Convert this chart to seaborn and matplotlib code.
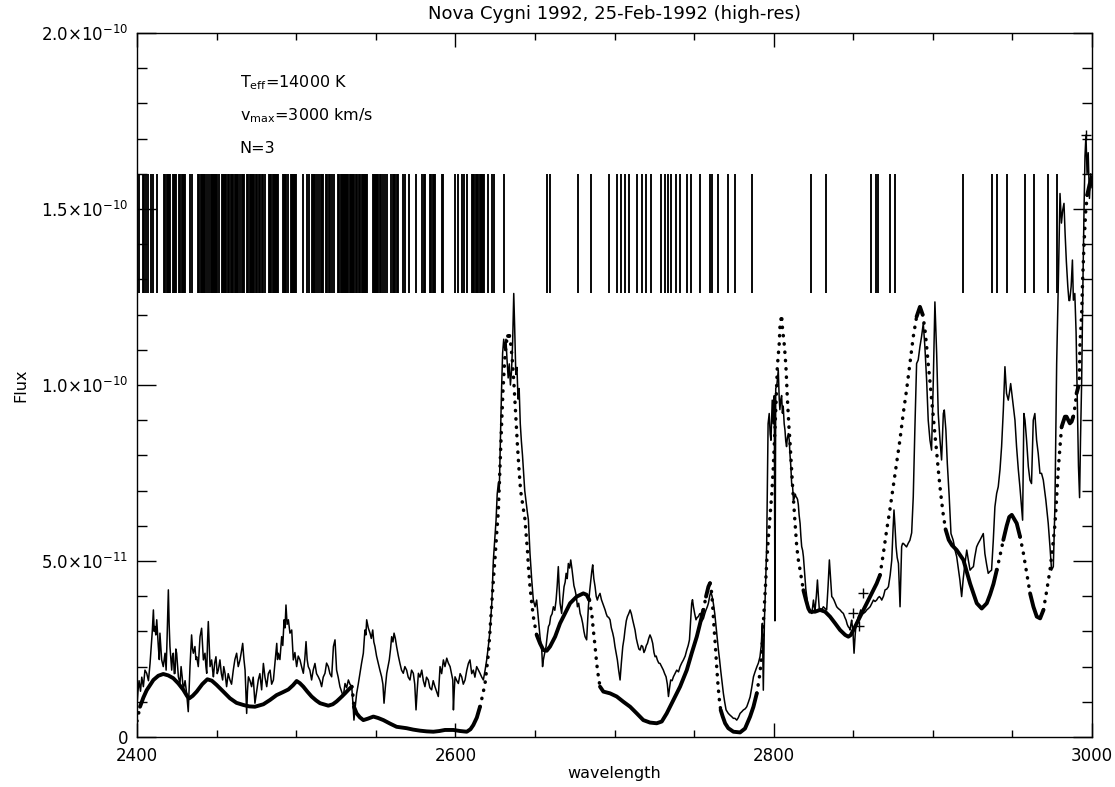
import numpy as np
import pandas as pd
import matplotlib
matplotlib.use("Agg")
import matplotlib.pyplot as plt
import seaborn as sns
from matplotlib.ticker import FixedLocator, MultipleLocator

sns.set_style("ticks")
plt.rcParams['font.family'] = ['DejaVu Sans']
plt.rcParams['mathtext.fontset'] = 'dejavusans'

# ---------------- texts ----------------
title = "Nova Cygni 1992, 25-Feb-1992 (high-res)"
x_label = "wavelength"
y_label = "Flux"
x_ticks = [2400, 2600, 2800, 3000]
x_tick_labels = ["2400", "2600", "2800", "3000"]
y_ticks = [0, 5e-11, 1e-10, 1.5e-10, 2e-10]
y_tick_labels = ["0", "5.0×10$^{-11}$", "1.0×10$^{-10}$",
                 "1.5×10$^{-10}$", "2.0×10$^{-10}$"]
annotations = [r"$\mathregular{T_{eff}}$=14000 K",
               r"$\mathregular{v_{max}}$=3000 km/s",
               "N=3"]
flux_unit = 1e-11   # flux values below are in units of 1e-11

# ---------------- observed spectrum (wavelength, flux/1e-11) ----------------
obs_points = [
    (2400.0, 0.9), (2400.6, 1.3), (2401.3, 1.6), (2402.2, 1.3), (2403.0, 1.7), (2404.0, 1.43),
    (2405.0, 1.9), (2406.1, 1.81), (2407.2, 1.6), (2408.2, 2.09), (2409.0, 2.6), (2409.6, 3.0),
    (2410.3, 3.61), (2410.8, 3.0), (2411.3, 3.14), (2411.8, 2.9), (2412.4, 3.33), (2413.4, 2.57),
    (2414.0, 2.2), (2414.4, 2.95), (2415.5, 2.19), (2416.5, 2.0), (2417.6, 2.38), (2418.3, 1.9),
    (2418.9, 2.8), (2419.7, 4.18), (2420.2, 3.2), (2420.7, 2.57), (2421.8, 1.9), (2422.3, 2.3),
    (2422.8, 2.38), (2423.4, 1.8), (2423.9, 1.81), (2424.4, 2.5), (2424.9, 2.38), (2426.0, 1.71),
    (2427.0, 1.52), (2427.7, 2.0), (2428.4, 1.7), (2429.1, 1.34), (2430.2, 1.6), (2431.2, 1.24),
    (2432.2, 0.72), (2432.8, 1.4), (2433.3, 2.0), (2434.3, 2.9), (2434.9, 2.5), (2435.4, 2.38),
    (2436.4, 2.57), (2437.0, 2.2), (2437.5, 2.28), (2438.5, 2.0), (2439.6, 2.85), (2440.6, 3.09),
    (2441.2, 2.6), (2441.7, 2.19), (2442.7, 2.38), (2443.3, 2.0), (2443.8, 1.81), (2444.3, 2.7),
    (2444.8, 3.28), (2445.4, 2.6), (2445.9, 2.0), (2446.9, 2.19), (2447.5, 1.9), (2448.0, 1.71),
    (2448.8, 2.1), (2449.6, 2.28), (2450.4, 1.8), (2451.1, 1.9), (2452.1, 2.19), (2453.0, 1.8),
    (2453.8, 1.62), (2454.5, 2.0), (2455.3, 1.81), (2456.3, 1.43), (2457.3, 1.8), (2458.4, 1.62),
    (2459.4, 1.5), (2460.5, 1.9), (2461.5, 2.2), (2462.6, 2.38), (2463.6, 2.0), (2464.7, 2.19),
    (2465.5, 2.4), (2466.4, 2.66), (2467.2, 2.2), (2467.9, 1.9), (2468.9, 0.67), (2469.4, 1.3),
    (2470.0, 1.71), (2471.0, 1.6), (2472.0, 1.43), (2473.0, 1.7), (2474.1, 0.96), (2475.2, 1.3),
    (2476.2, 1.62), (2477.2, 1.8), (2478.3, 1.34), (2479.4, 2.09), (2480.4, 1.7), (2481.5, 1.43),
    (2482.5, 1.8), (2483.6, 1.9), (2484.6, 1.5), (2485.7, 1.62), (2486.7, 2.1), (2487.8, 2.66),
    (2488.3, 2.2), (2488.8, 2.38), (2489.8, 2.2), (2490.9, 2.85), (2491.6, 2.6), (2492.4, 3.33),
    (2493.0, 3.1), (2493.6, 3.75), (2494.3, 3.2), (2495.1, 3.33), (2496.1, 2.95), (2497.2, 3.04),
    (2498.2, 2.19), (2499.2, 2.4), (2500.3, 2.0), (2501.3, 2.3), (2502.4, 2.19), (2503.4, 2.0),
    (2504.5, 1.81), (2505.4, 2.2), (2506.2, 2.71), (2506.9, 2.2), (2507.6, 2.0), (2508.6, 1.9),
    (2509.7, 1.62), (2510.7, 1.9), (2511.8, 2.09), (2512.8, 1.8), (2513.9, 1.71), (2515.0, 1.6),
    (2516.0, 1.43), (2517.0, 1.7), (2518.1, 1.81), (2519.1, 2.1), (2520.2, 2.0), (2521.2, 1.8),
    (2522.3, 1.71), (2523.4, 2.57), (2524.4, 2.76), (2525.4, 1.9), (2526.4, 1.7), (2527.5, 1.43),
    (2528.5, 1.3), (2529.6, 1.15), (2530.7, 1.52), (2531.7, 1.4), (2532.8, 1.62), (2533.8, 1.5),
    (2534.9, 1.43), (2535.6, 1.0), (2536.3, 0.48), (2537.2, 0.9), (2538.0, 1.24), (2539.0, 1.5),
    (2540.1, 1.81), (2541.1, 2.1), (2542.2, 2.38), (2543.2, 3.04), (2543.8, 2.9), (2544.3, 3.33),
    (2545.3, 3.1), (2546.4, 2.95), (2547.2, 2.8), (2548.1, 3.04), (2548.8, 2.7), (2549.5, 2.57),
    (2550.5, 2.3), (2551.6, 2.09), (2552.6, 1.9), (2553.7, 1.71), (2554.5, 1.5), (2555.2, 0.96),
    (2556.0, 1.4), (2556.9, 1.81), (2557.7, 2.0), (2558.5, 2.19), (2559.3, 2.5), (2560.0, 2.85),
    (2560.8, 2.7), (2561.5, 2.95), (2562.3, 2.8), (2563.1, 2.57), (2564.2, 2.3), (2565.2, 2.09),
    (2566.2, 1.9), (2567.3, 1.81), (2568.3, 2.0), (2569.4, 1.9), (2570.4, 1.7), (2571.5, 1.62),
    (2572.5, 1.9), (2573.6, 1.81), (2574.5, 1.5), (2575.3, 0.77), (2576.0, 1.3), (2576.8, 1.81),
    (2577.8, 1.7), (2578.9, 1.9), (2579.9, 1.6), (2580.9, 1.43), (2581.9, 1.7), (2583.0, 1.62),
    (2584.0, 1.4), (2585.1, 1.34), (2586.1, 1.6), (2587.2, 1.43), (2588.2, 1.3), (2589.3, 1.15),
    (2590.4, 2.0), (2591.4, 1.8), (2592.5, 2.19), (2593.5, 2.0), (2594.6, 2.24), (2595.6, 2.1),
    (2596.7, 2.0), (2597.6, 1.8), (2598.4, 1.62), (2598.8, 0.77), (2599.3, 1.3), (2599.8, 1.71),
    (2600.9, 1.6), (2601.9, 1.52), (2603.0, 1.8), (2604.0, 1.71), (2605.0, 1.5), (2606.1, 1.62),
    (2607.2, 1.9), (2608.2, 2.09), (2609.2, 2.19), (2610.3, 1.8), (2611.3, 1.9), (2612.3, 1.7),
    (2613.4, 2.0), (2614.5, 1.9), (2615.5, 1.81), (2616.6, 1.7), (2617.6, 1.62), (2618.7, 1.9),
    (2619.7, 2.19), (2620.8, 2.6), (2621.8, 3.04), (2622.9, 3.8), (2623.9, 5.03), (2625.0, 5.79),
    (2625.6, 6.17), (2626.3, 6.9), (2627.0, 7.2), (2627.6, 7.0), (2628.3, 8.4), (2629.0, 9.8),
    (2629.7, 10.9), (2630.4, 11.3), (2631.1, 11.0), (2631.8, 11.3), (2632.5, 10.7), (2633.2, 10.2),
    (2633.9, 10.6), (2634.6, 10.0), (2635.3, 10.4), (2636.0, 11.2), (2636.7, 12.6), (2637.3, 11.6),
    (2638.0, 10.3), (2638.7, 10.5), (2639.4, 9.6), (2640.1, 9.9), (2640.8, 8.9), (2641.5, 8.4),
    (2642.2, 8.0), (2642.9, 7.5), (2643.6, 7.0), (2644.4, 6.7), (2645.2, 6.4), (2645.9, 6.17),
    (2646.9, 5.22), (2648.0, 4.46), (2649.0, 3.89), (2650.1, 3.7), (2651.1, 3.89), (2652.2, 3.33),
    (2653.2, 2.85), (2654.3, 2.47), (2654.8, 2.0), (2655.3, 2.19), (2656.2, 2.4), (2657.0, 2.57),
    (2657.8, 2.9), (2658.5, 3.14), (2659.2, 3.2), (2659.9, 3.42), (2660.8, 3.5), (2661.6, 3.7),
    (2662.5, 3.6), (2663.3, 3.89), (2664.0, 4.3), (2664.7, 4.84), (2665.3, 4.2), (2665.8, 3.8),
    (2666.8, 3.51), (2667.5, 3.9), (2668.3, 4.27), (2669.0, 4.4), (2669.6, 4.65), (2670.3, 4.5),
    (2671.0, 4.93), (2671.8, 4.8), (2672.5, 5.03), (2673.2, 4.8), (2673.8, 4.56), (2674.5, 4.3),
    (2675.2, 4.18), (2676.0, 4.0), (2676.7, 3.7), (2677.5, 3.8), (2678.4, 3.51), (2679.2, 3.4),
    (2680.0, 3.23), (2680.8, 3.0), (2681.5, 2.85), (2682.5, 2.76), (2683.6, 3.7), (2684.3, 4.1),
    (2685.1, 4.46), (2685.7, 4.7), (2686.3, 4.89), (2687.0, 4.5), (2687.8, 4.27), (2688.5, 4.0),
    (2689.2, 3.89), (2690.0, 4.0), (2690.9, 4.08), (2691.8, 3.9), (2692.6, 3.8), (2693.4, 3.7),
    (2694.1, 3.61), (2694.8, 3.5), (2695.5, 3.42), (2696.3, 3.4), (2697.2, 3.33), (2698.0, 3.1),
    (2698.9, 2.95), (2699.6, 2.8), (2700.3, 2.57), (2701.0, 2.4), (2701.8, 2.19), (2702.6, 1.9),
    (2703.5, 1.62), (2704.3, 2.1), (2705.2, 2.57), (2706.0, 2.8), (2706.6, 3.04), (2707.4, 3.3),
    (2708.1, 3.42), (2708.9, 3.5), (2709.8, 3.61), (2710.6, 3.5), (2711.4, 3.33), (2712.1, 3.2),
    (2712.9, 3.04), (2713.7, 2.8), (2714.4, 2.66), (2715.3, 2.5), (2716.1, 2.47), (2716.9, 2.6),
    (2717.7, 2.57), (2718.5, 2.4), (2719.2, 2.47), (2720.0, 2.6), (2720.7, 2.66), (2721.5, 2.8),
    (2722.3, 2.9), (2723.2, 2.8), (2724.0, 2.66), (2724.8, 2.4), (2725.5, 2.28), (2726.2, 2.3),
    (2726.9, 2.19), (2727.8, 2.1), (2728.6, 2.09), (2729.6, 2.0), (2730.7, 1.9), (2731.5, 1.8),
    (2732.4, 1.71), (2733.2, 1.5), (2733.9, 1.15), (2734.6, 1.4), (2735.3, 1.62), (2736.2, 1.6),
    (2737.0, 1.71), (2738.0, 1.8), (2739.1, 1.9), (2740.2, 1.85), (2741.2, 2.0), (2742.2, 2.1),
    (2743.3, 2.19), (2744.4, 2.3), (2745.4, 2.47), (2746.3, 2.6), (2747.1, 2.76), (2747.8, 3.3),
    (2748.5, 3.8), (2749.0, 3.9), (2749.6, 3.7), (2750.4, 3.5), (2751.2, 3.33), (2752.0, 3.4),
    (2752.7, 3.42), (2753.5, 3.5), (2754.2, 3.51), (2755.0, 3.3), (2755.9, 3.37), (2756.7, 3.5),
    (2757.5, 3.61), (2758.3, 3.7), (2759.0, 3.8), (2759.8, 4.0), (2760.5, 4.13), (2761.3, 4.0),
    (2762.1, 3.8), (2763.0, 3.5), (2763.8, 3.14), (2764.5, 2.8), (2765.3, 2.47), (2766.0, 2.2),
    (2766.7, 1.9), (2767.5, 1.6), (2768.4, 1.24), (2769.2, 1.0), (2770.1, 0.77), (2770.8, 0.72),
    (2771.5, 0.67), (2772.6, 0.62), (2773.6, 0.58), (2774.7, 0.53), (2775.7, 0.53), (2776.8, 0.48),
    (2777.8, 0.55), (2778.9, 0.67), (2780.0, 0.72), (2781.0, 0.77), (2782.1, 0.8), (2783.1, 0.86),
    (2784.2, 1.0), (2785.2, 1.14), (2786.2, 1.4), (2787.3, 1.71), (2788.3, 1.85), (2789.4, 1.99),
    (2790.4, 2.1), (2791.4, 2.28), (2792.2, 2.6), (2792.9, 3.23), (2793.5, 1.33), (2794.2, 3.32),
    (2794.9, 4.3), (2795.6, 5.41), (2796.5, 8.9), (2797.2, 9.19), (2797.8, 8.6), (2798.3, 8.43),
    (2799.1, 9.57), (2799.7, 8.9), (2800.4, 9.7), (2800.8, 3.3), (2801.3, 9.9), (2802.0, 10.0),
    (2802.9, 10.42), (2803.5, 9.6), (2803.9, 9.3), (2804.5, 9.6), (2805.0, 9.7), (2805.5, 9.2),
    (2806.0, 9.4), (2806.6, 8.9), (2807.1, 8.72), (2807.6, 8.4), (2808.1, 8.25), (2808.6, 8.5),
    (2809.2, 8.62), (2809.8, 8.43), (2810.2, 8.06), (2810.8, 7.68), (2811.3, 7.2), (2811.9, 7.11),
    (2812.4, 6.73), (2813.0, 6.8), (2813.6, 6.9), (2814.0, 6.83), (2814.5, 6.8), (2815.0, 6.75),
    (2815.5, 6.6), (2816.0, 6.3), (2816.6, 6.07), (2817.1, 5.7), (2817.6, 5.41), (2818.2, 5.3),
    (2818.7, 5.12), (2819.2, 4.8), (2819.7, 4.46), (2820.2, 4.2), (2820.8, 3.99), (2821.3, 3.8),
    (2821.8, 3.7), (2822.4, 3.6), (2822.9, 3.61), (2823.5, 3.55), (2824.0, 3.51), (2824.5, 3.7),
    (2825.0, 3.89), (2825.5, 3.7), (2826.0, 3.61), (2826.8, 4.0), (2827.5, 4.46), (2828.1, 4.0),
    (2828.7, 3.61), (2829.5, 3.65), (2830.2, 3.61), (2831.2, 3.7), (2832.3, 3.65), (2833.3, 3.61),
    (2834.2, 4.3), (2835.0, 5.03), (2835.8, 4.5), (2836.5, 3.99), (2837.2, 3.95), (2837.9, 3.89),
    (2838.7, 3.8), (2839.6, 3.7), (2840.6, 3.65), (2841.7, 3.61), (2842.8, 3.55), (2843.8, 3.51),
    (2844.7, 3.4), (2845.5, 3.32), (2846.2, 3.2), (2846.9, 3.13), (2847.5, 3.1), (2848.0, 3.04),
    (2848.5, 3.2), (2849.0, 3.32), (2849.8, 3.0), (2850.5, 2.38), (2851.2, 2.9), (2851.8, 3.23),
    (2852.5, 3.3), (2853.2, 3.42), (2854.0, 3.5), (2854.7, 3.61), (2855.5, 3.5), (2856.4, 3.51),
    (2857.5, 3.55), (2858.5, 3.61), (2859.5, 3.65), (2860.6, 3.7), (2861.7, 3.8), (2862.7, 3.89),
    (2863.7, 3.85), (2864.7, 3.89), (2865.5, 3.95), (2866.4, 3.99), (2867.2, 3.95), (2867.9, 3.89),
    (2869.0, 4.0), (2870.0, 4.18), (2871.0, 4.2), (2872.1, 4.27), (2873.2, 4.6), (2874.2, 5.03),
    (2875.0, 5.9), (2875.6, 6.45), (2876.2, 6.0), (2876.9, 5.41), (2877.6, 5.1), (2878.4, 4.93),
    (2878.9, 4.3), (2879.4, 3.7), (2879.9, 4.6), (2880.4, 5.41), (2881.0, 5.5), (2881.5, 5.5),
    (2882.5, 5.45), (2883.5, 5.4), (2884.5, 5.5), (2885.6, 5.59), (2886.7, 5.8), (2887.7, 6.82),
    (2888.7, 8.72), (2889.8, 10.61), (2890.8, 10.71), (2891.9, 11.09), (2892.9, 11.37), (2894.0, 11.75),
    (2895.0, 11.09), (2896.1, 10.14), (2897.1, 9.0), (2898.2, 8.43), (2899.2, 8.15), (2900.3, 10.14),
    (2901.3, 12.36), (2902.4, 10.9), (2903.4, 9.19), (2904.5, 8.43), (2905.5, 7.87), (2906.6, 9.19),
    (2907.2, 9.29), (2908.2, 8.72), (2909.1, 7.77), (2910.3, 6.82), (2911.4, 5.78), (2912.8, 5.59),
    (2914.0, 5.3), (2915.0, 5.12), (2916.0, 4.8), (2917.0, 4.46), (2918.1, 3.99), (2919.1, 4.5),
    (2920.2, 4.93), (2921.3, 5.31), (2922.4, 5.0), (2923.4, 4.74), (2924.5, 4.8), (2925.5, 4.84),
    (2926.3, 5.1), (2927.5, 5.4), (2928.5, 5.5), (2929.6, 5.59), (2930.7, 5.69), (2931.7, 5.78),
    (2932.7, 5.21), (2933.8, 4.9), (2934.8, 4.65), (2935.8, 4.7), (2936.9, 4.74), (2938.0, 5.6),
    (2939.0, 6.54), (2940.1, 6.92), (2941.1, 7.11), (2942.2, 7.6), (2943.2, 8.25), (2944.3, 9.3),
    (2945.3, 10.52), (2946.3, 9.76), (2947.4, 9.57), (2948.2, 9.8), (2948.9, 10.04), (2950.1, 9.57),
    (2951.6, 9.0), (2952.6, 8.25), (2953.7, 7.6), (2954.7, 7.11), (2955.6, 6.6), (2956.4, 6.16),
    (2957.2, 9.19), (2957.9, 9.0), (2958.9, 8.43), (2960.0, 7.68), (2961.0, 7.3), (2962.0, 7.2),
    (2963.1, 9.0), (2964.1, 9.19), (2965.2, 8.43), (2966.2, 8.06), (2967.3, 7.49), (2968.3, 7.49),
    (2969.4, 7.3), (2971.0, 6.73), (2972.5, 6.07), (2973.6, 5.4), (2974.6, 4.74), (2975.7, 4.84),
    (2976.7, 6.54), (2977.8, 10.61), (2978.8, 12.8), (2979.9, 15.44), (2980.8, 14.6), (2981.6, 14.97),
    (2982.4, 15.16), (2983.1, 14.3), (2983.9, 13.5), (2984.8, 12.8), (2985.5, 12.4), (2986.0, 12.4),
    (2986.9, 12.8), (2987.7, 13.55), (2988.3, 12.41), (2989.2, 12.6), (2990.0, 11.5), (2990.8, 9.5),
    (2991.5, 7.7), (2992.2, 6.8), (2992.8, 8.5), (2993.5, 10.1), (2994.3, 12.9), (2995.0, 15.0),
    (2995.6, 16.5), (2996.2, 17.1), (2996.9, 16.0), (2997.6, 16.6), (2998.4, 15.3), (2999.2, 16.0),
    (3000.0, 15.6),
]

# ---------------- model spectrum (wavelength, flux/1e-11) ----------------
model_points = [
    (2400.0, 0.45), (2401.9, 0.86), (2404.0, 1.12), (2406.1, 1.33), (2410.3, 1.62), (2413.4, 1.74),
    (2416.5, 1.79), (2419.6, 1.75), (2422.8, 1.67), (2426.0, 1.52), (2429.1, 1.34), (2431.5, 1.16),
    (2432.9, 1.10), (2435.0, 1.17), (2437.5, 1.29), (2441.0, 1.50), (2444.2, 1.64), (2447.0, 1.60),
    (2450.0, 1.48), (2454.0, 1.30), (2458.4, 1.10), (2462.5, 0.97), (2466.8, 0.91), (2470.5, 0.87),
    (2474.1, 0.86), (2479.4, 0.93), (2483.5, 1.05), (2487.7, 1.19), (2491.5, 1.27), (2495.1, 1.35),
    (2498.0, 1.47), (2500.3, 1.59), (2502.3, 1.53), (2504.5, 1.43), (2507.0, 1.29), (2509.7, 1.15),
    (2512.5, 1.04), (2515.0, 0.96), (2520.2, 0.89), (2523.0, 0.93), (2525.4, 1.01), (2528.0, 1.12),
    (2530.7, 1.24), (2533.0, 1.35), (2534.9, 1.43), (2535.6, 1.2), (2536.3, 0.86), (2538.0, 0.67),
    (2540.0, 0.56), (2542.2, 0.48), (2545.0, 0.52), (2548.5, 0.58), (2551.5, 0.54), (2554.8, 0.48),
    (2559.0, 0.38), (2563.1, 0.29), (2569.4, 0.25), (2573.5, 0.21), (2577.8, 0.18), (2582.0, 0.16),
    (2586.2, 0.15), (2590.0, 0.17), (2593.5, 0.20), (2598.8, 0.20), (2603.0, 0.17), (2607.2, 0.15),
    (2609.5, 0.22), (2611.3, 0.34), (2613.5, 0.55), (2615.5, 0.86), (2617.2, 1.2), (2618.7, 1.53),
    (2620.8, 2.38), (2621.8, 3.04), (2622.9, 3.80), (2623.9, 4.46), (2625.0, 5.12), (2626.0, 5.79),
    (2627.0, 6.4), (2628.0, 7.6), (2629.0, 8.8), (2630.0, 9.9), (2631.0, 10.7), (2632.0, 11.2),
    (2633.0, 11.4), (2634.0, 11.4), (2635.0, 11.1), (2636.0, 10.6), (2637.0, 9.9), (2638.0, 9.1),
    (2639.0, 8.3), (2640.0, 7.6), (2641.0, 7.0), (2642.0, 6.7), (2643.0, 6.4), (2643.8, 6.17),
    (2644.4, 5.79), (2645.3, 5.31), (2645.9, 4.84), (2646.9, 4.27), (2648.0, 3.80), (2649.0, 3.42),
    (2650.1, 3.14), (2651.1, 2.90), (2653.2, 2.66), (2655.3, 2.47), (2657.4, 2.45), (2659.5, 2.57),
    (2662.7, 2.85), (2665.8, 3.23), (2668.9, 3.51), (2672.1, 3.80), (2676.3, 3.99), (2680.4, 4.08),
    (2682.5, 4.04), (2684.2, 3.89), (2685.7, 3.51), (2686.7, 3.04), (2687.8, 2.57), (2688.8, 2.09),
    (2689.9, 1.71), (2690.9, 1.43), (2693.0, 1.29), (2697.2, 1.24), (2701.4, 1.15), (2705.6, 1.00),
    (2709.8, 0.86), (2714.0, 0.67), (2718.1, 0.48), (2722.3, 0.41), (2726.5, 0.39), (2729.7, 0.44),
    (2732.8, 0.67), (2737.0, 1.05), (2741.2, 1.43), (2745.4, 1.90), (2748.5, 2.38), (2751.7, 2.85),
    (2753.8, 3.23), (2755.8, 3.61), (2757.5, 3.99), (2759.0, 4.27), (2760.0, 4.37), (2761.1, 4.08),
    (2761.7, 3.70), (2762.5, 3.14), (2763.4, 2.57), (2764.2, 2.00), (2765.1, 1.43), (2765.9, 1.05),
    (2766.7, 0.77), (2768.0, 0.58), (2769.5, 0.39), (2771.5, 0.25), (2774.7, 0.15), (2778.9, 0.13),
    (2782.0, 0.24), (2785.2, 0.58), (2787.3, 0.86), (2789.4, 1.24), (2791.4, 1.81), (2792.5, 2.38),
    (2793.5, 3.23), (2794.6, 4.08), (2795.6, 4.93), (2796.7, 5.69), (2797.7, 6.26), (2798.8, 6.9),
    (2799.7, 7.6), (2800.8, 8.72), (2801.8, 9.86), (2802.3, 10.52), (2803.5, 11.18), (2804.0, 11.7),
    (2805.0, 11.99), (2805.6, 11.56), (2806.4, 11.28), (2807.1, 10.90), (2807.7, 10.52), (2808.1, 10.14),
    (2808.5, 9.71), (2809.6, 8.81), (2810.2, 8.43), (2810.8, 7.96), (2811.9, 7.11), (2813.4, 6.1),
    (2814.5, 5.41), (2815.5, 5.03), (2816.6, 4.74), (2817.6, 4.46), (2818.7, 4.17), (2820.3, 3.89),
    (2821.8, 3.65), (2822.9, 3.56), (2826.0, 3.56), (2829.1, 3.61), (2832.3, 3.56), (2835.4, 3.42),
    (2838.6, 3.23), (2841.7, 3.04), (2844.9, 2.90), (2846.9, 2.85), (2848.5, 2.9), (2850.1, 3.04),
    (2853.2, 3.32), (2856.4, 3.61), (2859.5, 3.89), (2862.7, 4.18), (2864.7, 4.36), (2866.8, 4.6),
    (2868.9, 5.21), (2871.0, 5.88), (2873.0, 6.45), (2875.1, 7.11), (2877.2, 7.77), (2879.3, 8.43),
    (2881.4, 9.19), (2883.5, 9.86), (2885.6, 10.61), (2887.7, 11.37), (2889.8, 11.94), (2891.9, 12.22),
    (2893.6, 12.0), (2895.0, 11.6), (2896.1, 11.1), (2897.1, 10.6), (2898.2, 10.1), (2899.2, 9.6),
    (2900.3, 9.1), (2901.3, 8.6), (2902.4, 8.1), (2903.4, 7.6), (2904.5, 7.1), (2905.5, 6.7),
    (2906.6, 6.3), (2908.0, 5.9), (2910.0, 5.6), (2912.0, 5.45), (2915.0, 5.31), (2919.2, 5.03),
    (2923.4, 4.36), (2927.6, 3.80), (2930.7, 3.65), (2933.9, 3.80), (2936.0, 4.05), (2938.1, 4.35),
    (2940.2, 4.75), (2942.2, 5.15), (2944.3, 5.6), (2946.4, 6.0), (2948.0, 6.25), (2949.6, 6.31),
    (2952.7, 6.07), (2954.8, 5.69), (2956.9, 5.22), (2959.0, 4.65), (2961.1, 4.08), (2963.2, 3.70),
    (2965.3, 3.42), (2967.4, 3.37), (2969.5, 3.61), (2971.6, 4.17), (2973.6, 4.74), (2975.3, 5.41),
    (2976.8, 6.07), (2977.8, 6.8), (2978.8, 7.6), (2979.9, 8.25), (2980.9, 8.81), (2981.9, 8.95),
    (2983.0, 9.10), (2984.0, 9.10), (2985.1, 9.00), (2986.1, 8.91), (2987.2, 8.96), (2988.2, 9.10),
    (2989.3, 9.38), (2990.3, 9.76), (2991.4, 9.95), (2992.0, 10.14), (2992.4, 11.09), (2993.5, 12.03),
    (2994.1, 12.98), (2995.0, 14.0), (2996.0, 14.9), (2997.0, 15.4), (2998.5, 15.7), (3000.0, 15.9),
]

# ---------------- line identifications (wavelengths) ----------------
line_waves = [
    2400.2, 2401.0, 2403.5, 2404.5, 2405.5, 2407.1, 2408.8, 2410.3, 2412.4,
    2417.2, 2417.9, 2418.6, 2419.3, 2420.0, 2420.7,
    2422.4, 2423.2, 2424.0, 2424.8,
    2426.6, 2427.3, 2428.0, 2428.7, 2429.4, 2430.1,
    2433.3, 2434.6,
    2438.5, 2439.2, 2439.9, 2440.6, 2441.3, 2442.0, 2442.7, 2443.8, 2445.2,
    2446.3, 2447.0, 2447.7, 2448.4, 2449.1, 2449.8, 2450.5, 2451.7,
    2453.2, 2453.9, 2454.6, 2455.3, 2456.0,
    2457.4, 2458.1, 2458.8, 2459.5, 2460.3,
    2461.6, 2462.3, 2463.0, 2463.7, 2464.6,
    2465.8, 2466.6, 2467.5,
    2469.3, 2470.0, 2470.7, 2471.4, 2472.1, 2472.8, 2473.5,
    2474.8, 2475.6, 2476.4, 2477.2, 2478.4, 2479.2, 2480.4,
    2483.1, 2483.8, 2484.5, 2485.2, 2485.9, 2486.6, 2487.3, 2488.0, 2488.7,
    2491.5, 2492.3, 2493.1, 2493.9, 2495.1,
    2496.5, 2497.2, 2497.9, 2498.6, 2499.4, 2500.2,
    2504.5, 2506.6, 2508.1,
    2509.7, 2510.5, 2511.3, 2512.1, 2512.9,
    2514.6, 2515.4, 2516.2, 2517.0,
    2518.8, 2519.6, 2520.4, 2521.2, 2522.5, 2523.8,
    2526.5, 2527.2, 2527.9, 2528.6, 2529.3, 2530.0, 2530.7, 2531.4, 2532.1, 2532.8,
    2533.8, 2534.5, 2535.2, 2535.9, 2536.6, 2537.3, 2538.0,
    2539.7, 2540.4, 2541.1, 2541.8, 2542.5, 2543.2, 2543.9, 2544.6,
    2548.1, 2548.8, 2549.5, 2550.2, 2550.9, 2551.6,
    2552.7, 2553.6, 2554.5, 2555.9, 2557.0, 2559.4,
    2560.7, 2561.5, 2562.3, 2563.1, 2564.2,
    2567.4, 2568.3, 2571.1, 2575.3, 2578.8, 2580.0, 2581.2,
    2584.1, 2584.9, 2585.7, 2586.5, 2587.2,
    2591.5, 2592.5, 2599.8, 2601.5, 2604.4, 2605.7, 2607.1,
    2610.3, 2611.1, 2611.9, 2612.7, 2613.4,
    2614.5, 2615.3, 2616.1, 2616.9, 2617.6, 2618.2, 2620.3, 2622.9, 2624.0, 2630.3,
    2657.4, 2659.5, 2677.3, 2685.0, 2696.5, 2701.5, 2704.3, 2706.8, 2709.1,
    2714.1, 2717.1, 2719.6, 2722.9, 2729.2, 2731.9, 2733.6, 2735.3, 2738.6, 2741.3,
    2745.5, 2748.1, 2753.9, 2759.8, 2761.3, 2764.8, 2771.5, 2775.9, 2786.1,
    2823.4, 2832.7, 2861.0, 2864.3, 2865.5, 2873.1, 2876.0, 2918.9,
    2937.0, 2940.5, 2946.6, 2957.9, 2963.7, 2972.2, 2977.8,
]
line_bottom = 12.6
line_top = 16.0

# ---------------- '+' marks (wavelength, flux/1e-11) ----------------
plus_points = [(2856.4, 4.10), (2850.1, 3.53), (2853.5, 3.15), (2996.2, 17.1)]

# =====================================================================
fig = plt.figure(figsize=(11.15, 7.87), dpi=100)
ax = fig.add_axes([137 / 1115, 50 / 787, 955 / 1115, 704 / 787])

# line identification bars
ax.vlines(line_waves, line_bottom * flux_unit, line_top * flux_unit,
          color="black", linewidth=1.35)

# observed spectrum
obs = pd.DataFrame(obs_points, columns=["wave", "flux"])
obs["flux"] = obs["flux"] * flux_unit
sns.lineplot(data=obs, x="wave", y="flux", ax=ax, color="black",
             linewidth=1.1, estimator=None, sort=False)

# model spectrum: solid where flat, dotted where steep (IDL point plot look)
mw = np.array([p[0] for p in model_points])
mf = np.array([p[1] for p in model_points])
steep = np.abs(np.diff(mf) / np.diff(mw)) > 0.2
n = len(steep)
i = 0
while i < n:
    j = i
    while j + 1 < n and steep[j + 1] == steep[i]:
        j += 1
    seg = pd.DataFrame({"wave": mw[i:j + 2], "flux": mf[i:j + 2] * flux_unit})
    if steep[i]:
        sns.lineplot(data=seg, x="wave", y="flux", ax=ax, color="black",
                     linewidth=2.5, linestyle=(0, (0.1, 2.3)),
                     dash_capstyle="round", estimator=None, sort=False)
    else:
        sns.lineplot(data=seg, x="wave", y="flux", ax=ax, color="black",
                     linewidth=2.8, solid_capstyle="round",
                     solid_joinstyle="round", estimator=None, sort=False)
    i = j + 1

# plus markers
pl = pd.DataFrame(plus_points, columns=["wave", "flux"])
pl["flux"] = pl["flux"] * flux_unit
sns.scatterplot(data=pl, x="wave", y="flux", ax=ax, marker="+", s=55,
                color="black", linewidth=1.0)

# annotations
for k, txt in enumerate(annotations):
    ax.text(2464.5, (18.6 - 0.94 * k) * flux_unit, txt, fontsize=11.5,
            va="center", ha="left", color="black")

# axes formatting
ax.set_xlim(2400, 3000)
ax.set_ylim(0, 2e-10)
ax.xaxis.set_major_locator(FixedLocator(x_ticks))
ax.set_xticklabels(x_tick_labels)
ax.xaxis.set_minor_locator(MultipleLocator(50))
ax.yaxis.set_major_locator(FixedLocator(y_ticks))
ax.set_yticklabels(y_tick_labels)
ax.yaxis.set_minor_locator(MultipleLocator(1e-11))

ax.tick_params(axis="both", which="both", direction="in", top=True, right=True,
               color="black", width=1.0, labelcolor="black")
ax.tick_params(axis="x", which="major", length=10, pad=7, labelsize=12)
ax.tick_params(axis="x", which="minor", length=5)
ax.tick_params(axis="y", which="major", length=13.5, pad=6.5, labelsize=12)
ax.tick_params(axis="y", which="minor", length=7)

for s in ax.spines.values():
    s.set_linewidth(1.0)
    s.set_color("black")
    s.set_visible(True)

ax.set_xlabel(x_label, fontsize=11.5, labelpad=1, color="black")
ax.set_ylabel(y_label, fontsize=11.5, labelpad=9, color="black")
ax.set_title(title, fontsize=13, pad=10, color="black")

fig.savefig("out.png", dpi=100)
